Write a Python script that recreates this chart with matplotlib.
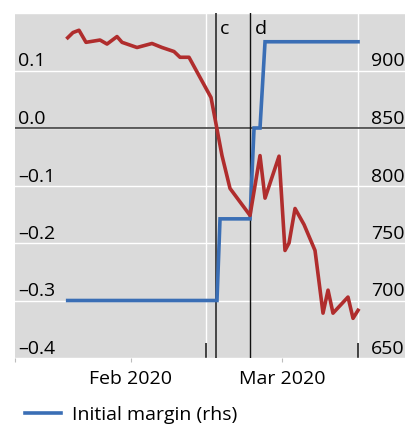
import matplotlib
matplotlib.use("Agg")
import matplotlib.pyplot as plt
from matplotlib.lines import Line2D

plt.rcParams['font.family'] = ['Open Sans', 'DejaVu Sans']

# x positions are days since 1 Feb 2020
spread_day = [-12.05, -11.04, -9.89, -8.55, -5.87, -4.53, -2.62, -1.66, 1.21, 4.07,
              5.99, 8.28, 9.43, 11.15, 15.36, 17.46, 18.99, 22.82, 24.73, 25.69,
              28.37, 29.51, 30.28, 31.43, 33.15, 35.25, 36.78, 37.74, 38.69, 41.56,
              42.52, 43.48]
spread_val = [0.157, 0.166, 0.170, 0.149, 0.153, 0.146, 0.159, 0.149, 0.140, 0.147,
              0.140, 0.133, 0.123, 0.123, 0.053, -0.048, -0.105, -0.152, -0.048, -0.122,
              -0.049, -0.213, -0.200, -0.140, -0.168, -0.213, -0.322, -0.282, -0.322, -0.294,
              -0.331, -0.317]

margin_day = [-12.05, 16.5, 17.08, 22.82, 23.59, 24.73, 25.69, 43.48]
margin_val = [700, 700, 771, 771, 850, 850, 925, 925]

event_day = [16.26, 22.82]
event_label = ['c', 'd']

month_day = [0, 29]
month_label = ['Feb 2020', 'Mar 2020']
mid_day = [14.35, 43.48]

left_ticks = [-0.4, -0.3, -0.2, -0.1, 0.0, 0.1, 0.2]
left_labels = ['–0.4', '–0.3', '–0.2', '–0.1', '0.0', '0.1', '']
right_ticks = [650, 700, 750, 800, 850, 900, 950]
right_labels = ['650', '700', '750', '800', '850', '900', '']

XMIN, XMAX = -22.13, 52.46
RED = '#b02d2d'
BLUE = '#3a6eb5'
BG = '#dadada'
FS = 14

fig = plt.figure(figsize=(4.05, 4.26), dpi=100)
ax = fig.add_axes([15 / 405, 68 / 426, 390 / 405, 345 / 426])
ax.set_facecolor(BG)
ax.set_xlim(XMIN, XMAX)
ax.set_ylim(-0.4, 0.2)
for s in ax.spines.values():
    s.set_visible(False)

# left scale, labels sit inside above their gridlines
ax.set_yticks(left_ticks)
ax.set_yticklabels(left_labels)
ax.tick_params(axis='y', direction='in', length=0, pad=-2.2, labelsize=FS)
for lbl in ax.get_yticklabels():
    lbl.set_horizontalalignment('left')
    lbl.set_verticalalignment('bottom')
ax.grid(True, axis='y', color='white', lw=1.0)
ax.axhline(0, color='#333333', lw=1.1, zorder=2)

# months below, mid-month markers inside
ax.set_xticks([XMIN] + month_day)
ax.set_xticklabels([''] + month_label)
ax.set_xticks(mid_day, minor=True)
ax.tick_params(axis='x', which='major', direction='out', length=3, width=0.8,
               color='#bdbdbd', pad=6, labelsize=FS)
ax.tick_params(axis='x', which='minor', direction='in', length=10.8, width=1.3,
               color='#333333')
ax.grid(True, axis='x', which='minor', color='white', lw=1.0)
ax.grid(False, axis='x', which='major')
ax.set_axisbelow(True)

for d, lab, c, w in zip(event_day, event_label, ['#3a3a3a', '#111111'], [1.3, 1.0]):
    ax.axvline(d, color=c, lw=w, zorder=2)
    ax.annotate(lab, xy=(d, 1), xycoords=('data', 'axes fraction'),
                xytext=(3.2, -15.3), textcoords='offset points',
                ha='left', va='baseline', fontsize=FS)

# right scale: initial margin
ax2 = ax.twinx()
ax2.set_ylim(650, 950)
ax2.set_yticks(right_ticks)
ax2.set_yticklabels(right_labels)
ax2.tick_params(axis='y', direction='in', length=0, pad=-24.5, labelsize=FS)
for lbl in ax2.get_yticklabels():
    lbl.set_horizontalalignment('left')
    lbl.set_verticalalignment('bottom')
for s in ax2.spines.values():
    s.set_visible(False)
ax2.plot(margin_day, margin_val, color=BLUE, lw=2.6, solid_joinstyle='miter')

# spread drawn above the margin line on the left scale
ax3 = ax.twinx()
ax3.set_ylim(-0.4, 0.2)
ax3.yaxis.set_visible(False)
for s in ax3.spines.values():
    s.set_visible(False)
ax3.plot(spread_day, spread_val, color=RED, lw=2.6)
ax3.set_xlim(XMIN, XMAX)

fig.legend(handles=[Line2D([], [], color=BLUE, lw=2.6)], labels=['Initial margin (rhs)'],
           loc='center left', bbox_to_anchor=(25 / 405, 11 / 426), frameon=False,
           borderpad=0, borderaxespad=0, handlelength=1.85, handletextpad=0.55,
           fontsize=FS)

fig.savefig('out.png', dpi=100)
